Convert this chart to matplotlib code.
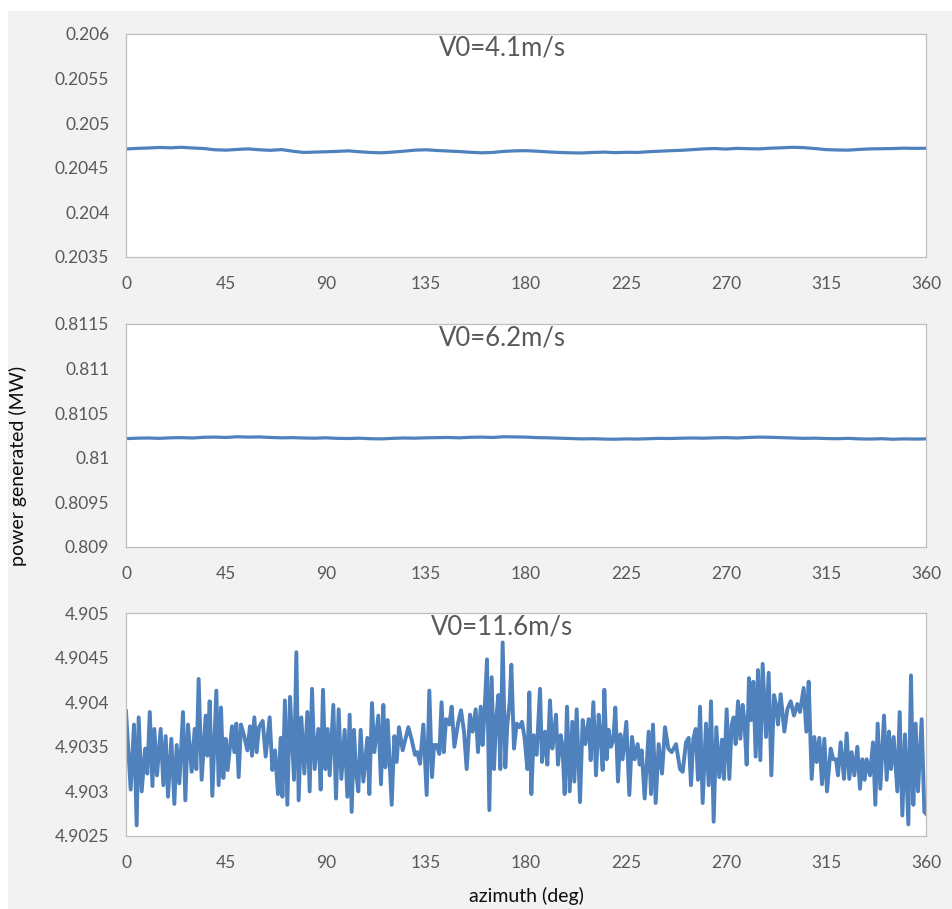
import matplotlib
matplotlib.use("Agg")
import matplotlib.pyplot as plt
from matplotlib.patches import Rectangle
from matplotlib.ticker import FuncFormatter

plt.rcParams['font.family'] = ['Lato', 'DejaVu Sans']

# azimuth grid for the two low-speed cases (deg)
az_low = list(range(0, 361, 5))

# V0 = 4.1 m/s, power (MW)
p_41 = [0.204711, 0.204718, 0.204722, 0.204728, 0.204724, 0.204730, 0.204722, 0.204716,
        0.204702, 0.204698, 0.204706, 0.204712, 0.204702, 0.204696, 0.204704, 0.204686,
        0.204672, 0.204676, 0.204680, 0.204684, 0.204690, 0.204680, 0.204672, 0.204668,
        0.204676, 0.204686, 0.204698, 0.204702, 0.204694, 0.204688, 0.204682, 0.204674,
        0.204668, 0.204672, 0.204684, 0.204690, 0.204692, 0.204686, 0.204678, 0.204672,
        0.204668, 0.204666, 0.204672, 0.204676, 0.204670, 0.204674, 0.204672, 0.204680,
        0.204686, 0.204692, 0.204696, 0.204704, 0.204712, 0.204716, 0.204710, 0.204718,
        0.204714, 0.204712, 0.204720, 0.204724, 0.204730, 0.204726, 0.204716, 0.204704,
        0.204700, 0.204698, 0.204706, 0.204712, 0.204714, 0.204716, 0.204720, 0.204718,
        0.204719]

# V0 = 6.2 m/s, power (MW)
p_62 = [0.810215, 0.810220, 0.810222, 0.810218, 0.810224, 0.810226, 0.810222, 0.810230,
        0.810232, 0.810228, 0.810236, 0.810232, 0.810234, 0.810228, 0.810224, 0.810226,
        0.810222, 0.810220, 0.810224, 0.810218, 0.810216, 0.810220, 0.810214, 0.810212,
        0.810218, 0.810222, 0.810220, 0.810224, 0.810226, 0.810228, 0.810224, 0.810230,
        0.810232, 0.810228, 0.810236, 0.810234, 0.810232, 0.810226, 0.810224, 0.810220,
        0.810216, 0.810212, 0.810214, 0.810210, 0.810208, 0.810212, 0.810210, 0.810214,
        0.810218, 0.810216, 0.810220, 0.810222, 0.810220, 0.810224, 0.810226, 0.810222,
        0.810228, 0.810232, 0.810230, 0.810226, 0.810222, 0.810218, 0.810220, 0.810216,
        0.810214, 0.810218, 0.810212, 0.810210, 0.810214, 0.810208, 0.810212, 0.810210,
        0.810212]

# V0 = 11.6 m/s, read point by point (deg, MW)
az_116 = [0, 2.1, 3.6, 4.8, 5.7, 7.05, 8.6, 9.6, 10.7, 11.9, 12.75, 13.95, 15.6, 16.8, 17.85,
          18.9, 20.4, 21.75, 22.8, 24.0, 25.65, 26.7, 27.9, 29.55, 30.9, 31.65, 32.7, 34.05,
          35.85, 36.6, 37.65, 38.85, 40.65, 41.7, 42.75, 43.8, 44.85, 45.75, 47.7, 48.75,
          49.65, 50.7, 51.75, 53.1, 54.6, 55.8, 56.7, 57.75, 58.8, 59.85, 61.5, 62.85, 64.65,
          65.85, 67.05, 68.4, 69.6, 70.4, 71.5, 72.6, 73.8, 75.6, 76.65, 77.7, 78.9, 80.25,
          81.6, 82.65, 83.7, 84.9, 86.55, 87.6, 88.65, 89.7, 90.75, 91.65, 93.3, 94.5, 95.7,
          96.9, 98.4, 99.6, 100.65, 101.55, 102.6, 103.5, 104.55, 105.6, 106.8, 108.6, 109.5,
          110.7, 111.75, 113.55, 114.75, 115.8, 116.7, 117.75, 119.55, 120.75, 121.8, 122.85,
          124.5, 127.05, 128.55, 130.05, 131.1, 132.3, 133.8, 135.3, 136.5, 137.7, 138.6,
          139.8, 141.0, 142.0, 143.0, 144.0, 145.5, 146.55, 147.75, 149.55, 150.75, 152.1,
          153.3, 154.8, 156.0, 157.35, 158.4, 159.6, 160.5, 161.4, 162.45, 163.5, 164.55,
          165.6, 166.5, 167.55, 168.45, 169.5, 170.7, 171.6, 172.65, 173.4, 174.6, 175.8,
          177.0, 178.2, 179.4, 180.6, 181.5, 182.4, 183.45, 184.8, 186.3, 187.2, 188.55,
          189.6, 190.8, 191.85, 192.6, 193.5, 194.4, 195.6, 196.35, 197.4, 198.45, 199.65,
          200.85, 201.75, 202.8, 204.3, 205.5, 206.7, 208.2, 209.1, 210.3, 211.5, 212.7,
          213.6, 214.5, 215.25, 216.3, 217.2, 218.25, 219.3, 220.2, 221.4, 222.45, 223.5,
          225.15, 226.5, 227.7, 228.9, 230.25, 231.15, 232.05, 233.4, 235.2, 236.25, 237.15,
          238.35, 239.7, 241.2, 242.55, 244.05, 245.55, 247.5, 249.3, 250.5, 252.0, 253.2,
          254.25, 255.3, 256.35, 257.4, 258.3, 259.5, 261.0, 262.2, 263.25, 264.45, 265.65,
          267.0, 268.2, 269.1, 270.3, 271.5, 272.55, 273.45, 274.35, 275.4, 276.45, 277.5,
          278.25, 279.3, 280.35, 281.25, 282.3, 283.35, 284.4, 285.45, 286.5, 288.0, 289.2,
          290.4, 291.6, 292.5, 293.4, 294.6, 296.25, 297.6, 299.1, 300.6, 302.1, 303.3,
          304.95, 306.15, 307.2, 308.55, 309.75, 310.8, 312.0, 313.2, 314.25, 315.45, 317.1,
          318.3, 319.5, 320.4, 321.6, 323.1, 324.3, 325.5, 326.55, 327.75, 329.1, 330.3,
          331.35, 332.4, 333.3, 334.8, 336.15, 337.2, 338.25, 339.45, 341.1, 342.3, 343.35,
          344.25, 345.45, 347.1, 348.15, 349.35, 350.55, 352.05, 353.25, 354.3, 355.35,
          356.4, 358.05, 359.25, 360.0]
p_116 = [4.90390, 4.90302, 4.90375, 4.90262, 4.90383, 4.90300, 4.90348, 4.90320, 4.90389,
         4.90306, 4.90370, 4.90318, 4.90370, 4.90307, 4.90362, 4.90294, 4.90359, 4.90286,
         4.90352, 4.90309, 4.90389, 4.90290, 4.90375, 4.90322, 4.90370, 4.90325, 4.90426,
         4.90313, 4.90385, 4.90340, 4.90401, 4.90295, 4.90413, 4.90307, 4.90394, 4.90315,
         4.90359, 4.90324, 4.90373, 4.90344, 4.90376, 4.90316, 4.90375, 4.90363, 4.90346,
         4.90373, 4.90340, 4.90383, 4.90344, 4.90372, 4.90379, 4.90339, 4.90383, 4.90324,
         4.90346, 4.90297, 4.90360, 4.90294, 4.90402, 4.90285, 4.90406, 4.90313, 4.90456,
         4.90290, 4.90383, 4.90320, 4.90389, 4.90300, 4.90415, 4.90325, 4.90370, 4.90302,
         4.90414, 4.90325, 4.90370, 4.90318, 4.90397, 4.90292, 4.90392, 4.90314, 4.90369,
         4.90294, 4.90386, 4.90277, 4.90369, 4.90322, 4.90300, 4.90369, 4.90311, 4.90360,
         4.90297, 4.90399, 4.90344, 4.90385, 4.90308, 4.90397, 4.90327, 4.90380, 4.90285,
         4.90362, 4.90333, 4.90372, 4.90346, 4.90372, 4.90358, 4.90341, 4.90344, 4.90331,
         4.90375, 4.90296, 4.90413, 4.90316, 4.90352, 4.90352, 4.90342, 4.90400, 4.90344,
         4.90381, 4.90375, 4.90395, 4.90350, 4.90378, 4.90391, 4.90367, 4.90325, 4.90386,
         4.90367, 4.90392, 4.90344, 4.90395, 4.90352, 4.90392, 4.90448, 4.90279, 4.90428,
         4.90325, 4.90378, 4.90408, 4.90325, 4.90467, 4.90327, 4.90375, 4.90400, 4.90442,
         4.90348, 4.90376, 4.90372, 4.90378, 4.90359, 4.90325, 4.90411, 4.90297, 4.90363,
         4.90341, 4.90415, 4.90333, 4.90367, 4.90330, 4.90402, 4.90348, 4.90363, 4.90386,
         4.90330, 4.90363, 4.90352, 4.90297, 4.90395, 4.90300, 4.90378, 4.90311, 4.90392,
         4.90288, 4.90380, 4.90353, 4.90381, 4.90335, 4.90400, 4.90318, 4.90386, 4.90360,
         4.90324, 4.90414, 4.90336, 4.90369, 4.90350, 4.90358, 4.90394, 4.90311, 4.90364,
         4.90336, 4.90378, 4.90296, 4.90361, 4.90336, 4.90353, 4.90330, 4.90346, 4.90292,
         4.90367, 4.90297, 4.90375, 4.90287, 4.90353, 4.90320, 4.90372, 4.90348, 4.90344,
         4.90353, 4.90325, 4.90322, 4.90355, 4.90360, 4.90307, 4.90359, 4.90370, 4.90313,
         4.90395, 4.90287, 4.90376, 4.90307, 4.90401, 4.90266, 4.90372, 4.90316, 4.90358,
         4.90314, 4.90392, 4.90314, 4.90375, 4.90383, 4.90353, 4.90401, 4.90359, 4.90397,
         4.90380, 4.90330, 4.90427, 4.90380, 4.90423, 4.90339, 4.90436, 4.90335, 4.90443,
         4.90361, 4.90433, 4.90318, 4.90408, 4.90397, 4.90375, 4.90409, 4.90367, 4.90392,
         4.90401, 4.90385, 4.90398, 4.90389, 4.90416, 4.90367, 4.90423, 4.90314, 4.90361,
         4.90333, 4.90360, 4.90308, 4.90359, 4.90300, 4.90348, 4.90336, 4.90336, 4.90318,
         4.90355, 4.90314, 4.90365, 4.90314, 4.90344, 4.90318, 4.90350, 4.90303, 4.90336,
         4.90313, 4.90336, 4.90318, 4.90355, 4.90285, 4.90376, 4.90303, 4.90385, 4.90313,
         4.90367, 4.90325, 4.90361, 4.90300, 4.90389, 4.90273, 4.90364, 4.90263, 4.90430,
         4.90285, 4.90376, 4.90300, 4.90381, 4.90277, 4.90275]

titles = ['V0=4.1m/s', 'V0=6.2m/s', 'V0=11.6m/s']
xticks = [0, 45, 90, 135, 180, 225, 270, 315, 360]
yticks_41 = [0.2035, 0.204, 0.2045, 0.205, 0.2055, 0.206]
yticks_62 = [0.809, 0.8095, 0.81, 0.8105, 0.811, 0.8115]
yticks_116 = [4.9025, 4.903, 4.9035, 4.904, 4.9045, 4.905]

line_color = '#4f81bd'
grey_txt = '#595959'

W, H = 952, 909
fig = plt.figure(figsize=(W / 100, H / 100), dpi=100, facecolor='white')
fig.patches.append(Rectangle((8 / W, 1 - 908 / H), (W - 8) / W, (908 - 11) / H,
                             transform=fig.transFigure, color='#f2f2f2', zorder=-5))

# panel boxes in pixels: (top, bottom)
boxes = [(34, 257), (324, 547), (613, 836)]
series = [(az_low, p_41, yticks_41), (az_low, p_62, yticks_62), (az_116, p_116, yticks_116)]
widths = [2.3, 2.3, 2.8]

for (top, bot), (x, y, yt), title, lw in zip(boxes, series, titles, widths):
    ax = fig.add_axes([126 / W, 1 - bot / H, 800 / W, (bot - top) / H])
    ax.set_facecolor('white')
    ax.plot(x, y, color=line_color, lw=lw, solid_joinstyle='round')
    ax.set_xlim(0, 360)
    ax.set_ylim(yt[0], yt[-1])
    ax.set_xticks(xticks)
    ax.set_yticks(yt)
    ax.yaxis.set_major_formatter(FuncFormatter(lambda v, pos: '{:g}'.format(round(v, 6))))
    ax.tick_params(length=0, labelsize=12.5, colors=grey_txt)
    ax.tick_params(axis='x', pad=14)
    ax.tick_params(axis='y', pad=12)
    for s in ax.spines.values():
        s.set_color('#bfbfbf')
        s.set_linewidth(0.9)
    ax.text(0.47, 0.905, title, transform=ax.transAxes, ha='center', va='baseline',
            fontsize=18.5, color=grey_txt)

fig.text(18 / W, 1 - 466 / H, 'power generated (MW)', rotation=90, ha='center', va='center',
         fontsize=14, color='#0d0d0d')
fig.text(526 / W, 1 - 896 / H, 'azimuth (deg)', ha='center', va='center',
         fontsize=14, color='#0d0d0d')

fig.savefig('out.png', dpi=100, facecolor=fig.get_facecolor())
